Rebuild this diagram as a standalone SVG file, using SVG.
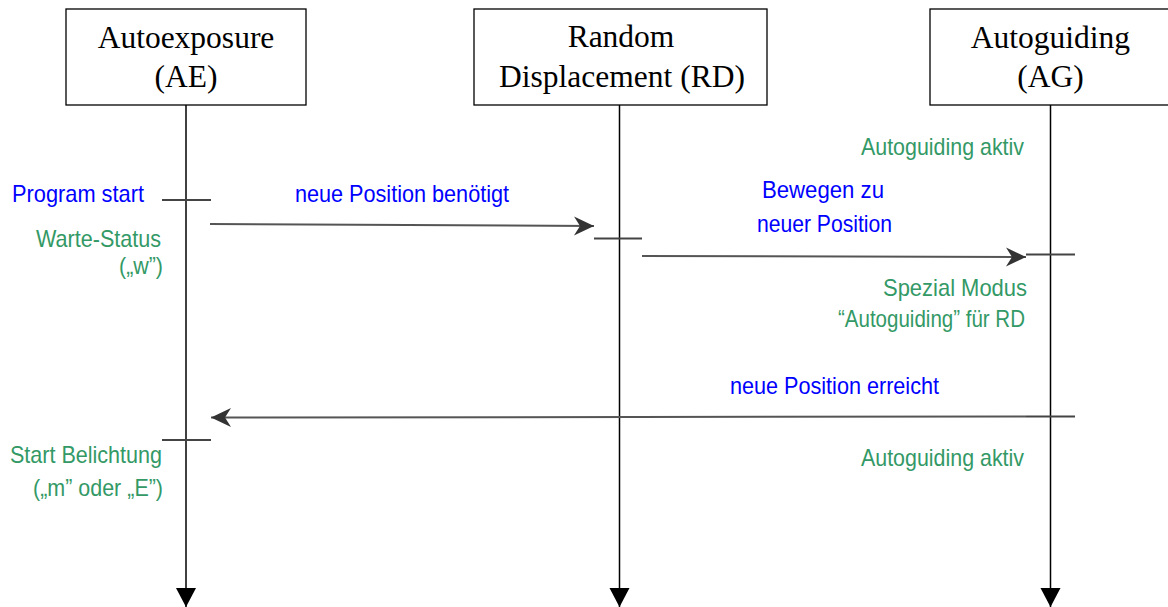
<svg xmlns="http://www.w3.org/2000/svg" width="1168" height="607" viewBox="0 0 1168 607">
<defs>
<style>
.box{fill:#fff;stroke:#000;stroke-width:1.3}
.ttl{font-family:"Liberation Serif","Times New Roman",serif;font-size:31.5px;fill:#000;text-anchor:middle}
.life{stroke:#000;stroke-width:1.5;fill:none}
.tick{stroke:#444;stroke-width:2;fill:none}
.msg{stroke:#555;stroke-width:2;fill:none}
.blue{font-family:"Liberation Sans",Arial,sans-serif;font-size:24px;fill:#0000ff}
.green{font-family:"Liberation Sans",Arial,sans-serif;font-size:24px;fill:#339966}
</style>
<marker id="ah" markerUnits="userSpaceOnUse" markerWidth="20" markerHeight="20" refX="20" refY="10" orient="auto" overflow="visible">
<path d="M20,10 L0,0.5 L6,10 L0,19.5 Z" fill="#333"/>
</marker>
<marker id="tri" markerUnits="userSpaceOnUse" markerWidth="20" markerHeight="20" refX="19" refY="10" orient="auto" overflow="visible">
<path d="M0,0 L19,10 L0,20 Z" fill="#000"/>
</marker>
</defs>
<rect width="1168" height="607" fill="#fff"/>

<g id="connectors">
<line class="life" x1="186" y1="105" x2="186" y2="607" marker-end="url(#tri)"/>
<line class="life" x1="619.5" y1="105" x2="619.5" y2="607" marker-end="url(#tri)"/>
<line class="life" x1="1050.5" y1="105" x2="1050.5" y2="607" marker-end="url(#tri)"/>
<line class="tick" x1="162" y1="200" x2="211" y2="200"/>
<line class="tick" x1="594" y1="238.5" x2="642" y2="238.5"/>
<line class="tick" x1="1026" y1="254.5" x2="1075" y2="254.5"/>
<line class="tick" x1="1026" y1="416.5" x2="1075" y2="416.5"/>
<line class="tick" x1="162" y1="440" x2="211" y2="440"/>
<line class="msg" x1="210" y1="224" x2="594" y2="226" marker-end="url(#ah)"/>
<line class="msg" x1="642" y1="256" x2="1026" y2="257" marker-end="url(#ah)"/>
<line class="msg" x1="1026" y1="416.5" x2="211" y2="417.5" marker-end="url(#ah)"/>
</g>

<g id="node-ae">
<rect class="box" x="66" y="9" width="240" height="96"/>
<text class="ttl" x="186" y="48">Autoexposure</text>
<text class="ttl" x="186" y="87">(AE)</text>
</g>
<g id="node-rd">
<rect class="box" x="474" y="9" width="293" height="96"/>
<text class="ttl" x="621" y="47">Random</text>
<text class="ttl" x="622" y="87">Displacement (RD)</text>
</g>
<g id="node-ag">
<rect class="box" x="930" y="9" width="245" height="96"/>
<text class="ttl" x="1050.5" y="48">Autoguiding</text>
<text class="ttl" x="1050.5" y="87">(AG)</text>
</g>

<g id="labels">
<text class="blue" x="12" y="202" textLength="132" lengthAdjust="spacingAndGlyphs">Program start</text>
<text class="green" x="161" y="247" text-anchor="end" textLength="125" lengthAdjust="spacingAndGlyphs">Warte-Status</text>
<text class="green" x="163" y="274" text-anchor="end" textLength="44" lengthAdjust="spacingAndGlyphs">(„w”)</text>
<text class="blue" x="295" y="201.5" textLength="214" lengthAdjust="spacingAndGlyphs">neue Position benötigt</text>
<text class="blue" x="762" y="198" textLength="122" lengthAdjust="spacingAndGlyphs">Bewegen zu</text>
<text class="blue" x="757" y="231.5" textLength="135" lengthAdjust="spacingAndGlyphs">neuer Position</text>
<text class="green" x="861" y="155" textLength="163" lengthAdjust="spacingAndGlyphs">Autoguiding aktiv</text>
<text class="green" x="883" y="296" textLength="144" lengthAdjust="spacingAndGlyphs">Spezial Modus</text>
<text class="green" x="838" y="327" textLength="187" lengthAdjust="spacingAndGlyphs">“Autoguiding” für RD</text>
<text class="blue" x="730" y="394" textLength="209" lengthAdjust="spacingAndGlyphs">neue Position erreicht</text>
<text class="green" x="861" y="466" textLength="163" lengthAdjust="spacingAndGlyphs">Autoguiding aktiv</text>
<text class="green" x="10" y="463" textLength="152" lengthAdjust="spacingAndGlyphs">Start Belichtung</text>
<text class="green" x="33" y="496" textLength="130" lengthAdjust="spacingAndGlyphs">(„m” oder „E”)</text>
</g>
</svg>
